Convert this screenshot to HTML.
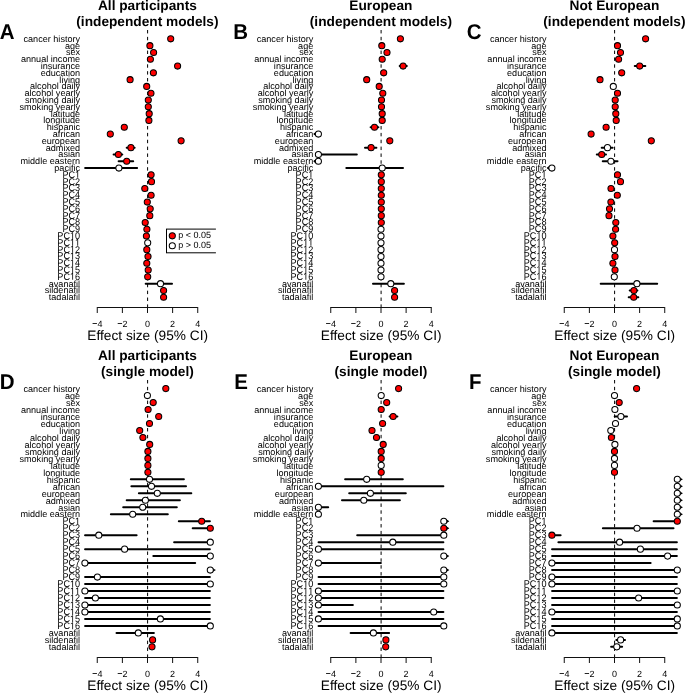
<!DOCTYPE html><html><head><meta charset="utf-8"><style>html,body{margin:0;padding:0;background:#fff;width:685px;height:693px;overflow:hidden}svg{display:block;will-change:transform}text{font-family:"Liberation Sans",sans-serif;fill:#000;text-rendering:geometricPrecision}.lb{font-size:9.1px;text-anchor:end}.tk{font-size:9px;text-anchor:middle}.ti{font-size:13.7px;font-weight:bold;text-anchor:middle}.xl{font-size:13.7px;text-anchor:middle}.le{font-size:20.5px;font-weight:bold;text-anchor:end}.lg{font-size:9px}.ci{stroke:#000;stroke-width:2;stroke-linecap:round;fill:none}.cc{stroke:#000;stroke-width:2;stroke-linecap:butt;fill:none}.pr{fill:#f00;stroke:#000;stroke-width:1.05}.pw{fill:#fff;stroke:#000;stroke-width:1.05}.ax{stroke:#111;stroke-width:1;fill:none}.zl{stroke:#000;stroke-width:1;stroke-dasharray:3.43 3.43;fill:none}</style></head><body>
<svg width="685" height="693" viewBox="0 0 685 693">
<g><clipPath id="cA"><rect x="80" y="25" width="135.9" height="282.5"/></clipPath><text class="le" transform="translate(14.6 38.8) scale(1 1.04)">A</text><text class="ti" x="147.4" y="9.6">All participants</text><text class="ti" x="147.4" y="25.8">(independent models)</text><text class="lb" x="80.1" y="41.7">cancer history</text><text class="lb" x="80.1" y="48.5">age</text><text class="lb" x="80.1" y="55.3">sex</text><text class="lb" x="80.1" y="62.1">annual income</text><text class="lb" x="80.1" y="68.9">insurance</text><text class="lb" x="80.1" y="75.7">education</text><text class="lb" x="80.1" y="82.5">living</text><text class="lb" x="80.1" y="89.3">alcohol daily</text><text class="lb" x="80.1" y="96.1">alcohol yearly</text><text class="lb" x="80.1" y="102.9">smoking daily</text><text class="lb" x="80.1" y="109.7">smoking yearly</text><text class="lb" x="80.1" y="116.5">latitude</text><text class="lb" x="80.1" y="123.3">longitude</text><text class="lb" x="80.1" y="130.1">hispanic</text><text class="lb" x="80.1" y="136.9">african</text><text class="lb" x="80.1" y="143.7">european</text><text class="lb" x="80.1" y="150.5">admixed</text><text class="lb" x="80.1" y="157.3">asian</text><text class="lb" x="80.1" y="164.1">middle eastern</text><text class="lb" x="80.1" y="170.9">pacific</text><g transform="translate(80.1 177.7) scale(1 1.07)"><text class="lb">PC </text><path d="M-2.77 0L-2.77 -5.5L-4.19 -4.49L-4.19 -5.24L-2.71 -6.26L-1.97 -6.26L-1.97 0z"/></g><g transform="translate(80.1 184.5) scale(1 1.07)"><text class="lb">PC2</text></g><g transform="translate(80.1 191.3) scale(1 1.07)"><text class="lb">PC3</text></g><g transform="translate(80.1 198.1) scale(1 1.07)"><text class="lb">PC4</text></g><g transform="translate(80.1 204.9) scale(1 1.07)"><text class="lb">PC5</text></g><g transform="translate(80.1 211.7) scale(1 1.07)"><text class="lb">PC6</text></g><g transform="translate(80.1 218.5) scale(1 1.07)"><text class="lb">PC7</text></g><g transform="translate(80.1 225.3) scale(1 1.07)"><text class="lb">PC8</text></g><g transform="translate(80.1 232.1) scale(1 1.07)"><text class="lb">PC9</text></g><g transform="translate(80.1 238.9) scale(1 1.07)"><text class="lb">PC 0</text><path d="M-7.83 0L-7.83 -5.5L-9.25 -4.49L-9.25 -5.24L-7.77 -6.26L-7.03 -6.26L-7.03 0z"/></g><g transform="translate(80.1 245.7) scale(1 1.07)"><text class="lb">PC  </text><path d="M-7.83 0L-7.83 -5.5L-9.25 -4.49L-9.25 -5.24L-7.77 -6.26L-7.03 -6.26L-7.03 0z"/><path d="M-2.77 0L-2.77 -5.5L-4.19 -4.49L-4.19 -5.24L-2.71 -6.26L-1.97 -6.26L-1.97 0z"/></g><g transform="translate(80.1 252.5) scale(1 1.07)"><text class="lb">PC 2</text><path d="M-7.83 0L-7.83 -5.5L-9.25 -4.49L-9.25 -5.24L-7.77 -6.26L-7.03 -6.26L-7.03 0z"/></g><g transform="translate(80.1 259.3) scale(1 1.07)"><text class="lb">PC 3</text><path d="M-7.83 0L-7.83 -5.5L-9.25 -4.49L-9.25 -5.24L-7.77 -6.26L-7.03 -6.26L-7.03 0z"/></g><g transform="translate(80.1 266.1) scale(1 1.07)"><text class="lb">PC 4</text><path d="M-7.83 0L-7.83 -5.5L-9.25 -4.49L-9.25 -5.24L-7.77 -6.26L-7.03 -6.26L-7.03 0z"/></g><g transform="translate(80.1 272.9) scale(1 1.07)"><text class="lb">PC 5</text><path d="M-7.83 0L-7.83 -5.5L-9.25 -4.49L-9.25 -5.24L-7.77 -6.26L-7.03 -6.26L-7.03 0z"/></g><g transform="translate(80.1 279.7) scale(1 1.07)"><text class="lb">PC 6</text><path d="M-7.83 0L-7.83 -5.5L-9.25 -4.49L-9.25 -5.24L-7.77 -6.26L-7.03 -6.26L-7.03 0z"/></g><text class="lb" x="80.1" y="286.5">avanafil</text><text class="lb" x="80.1" y="293.3">sildenafil</text><text class="lb" x="80.1" y="300.1">tadalafil</text><line class="zl" x1="147.6" y1="30" x2="147.6" y2="307.5"/><path class="ax" d="M97.26 307.5H197.74M97.26 307v6M122.38 307v6M147.5 307v6M172.62 307v6M197.74 307v6"/><rect x="92.57" y="323.15" width="4.38" height="0.85" fill="#000"/><text class="tk" style="text-anchor:start" x="97.39" y="326.5">4</text><rect x="117.69" y="323.15" width="4.38" height="0.85" fill="#000"/><text class="tk" style="text-anchor:start" x="122.51" y="326.5">2</text><text class="tk" x="147.5" y="326.5">0</text><text class="tk" x="172.62" y="326.5">2</text><text class="tk" x="197.74" y="326.5">4</text><text class="xl" x="147.7" y="339.7">Effect size (95% CI)</text><g clip-path="url(#cA)"><line class="ci" x1="126.7" y1="147.65" x2="134.6" y2="147.65"/><line class="ci" x1="113.6" y1="154.45" x2="122.3" y2="154.45"/><line class="ci" x1="118.6" y1="161.25" x2="133.2" y2="161.25"/><line class="ci" x1="85.1" y1="168.05" x2="137.1" y2="168.05"/><line class="ci" x1="145.7" y1="283.65" x2="172" y2="283.65"/><circle class="pr" cx="170.7" cy="38.85" r="3.05"/><circle class="pr" cx="149.9" cy="45.65" r="3.05"/><circle class="pr" cx="153.6" cy="52.45" r="3.05"/><circle class="pr" cx="150.4" cy="59.25" r="3.05"/><circle class="pr" cx="177.6" cy="66.05" r="3.05"/><circle class="pr" cx="153.4" cy="72.85" r="3.05"/><circle class="pr" cx="130.1" cy="79.65" r="3.05"/><circle class="pr" cx="146.7" cy="86.45" r="3.05"/><circle class="pr" cx="150.95" cy="93.25" r="3.05"/><circle class="pr" cx="148.3" cy="100.05" r="3.05"/><circle class="pr" cx="148.3" cy="106.85" r="3.05"/><circle class="pr" cx="149.2" cy="113.65" r="3.05"/><circle class="pr" cx="148.9" cy="120.45" r="3.05"/><circle class="pr" cx="124.3" cy="127.25" r="3.05"/><circle class="pr" cx="110.3" cy="134.05" r="3.05"/><circle class="pr" cx="181.1" cy="140.85" r="3.05"/><circle class="pr" cx="130.9" cy="147.65" r="3.05"/><circle class="pr" cx="118.4" cy="154.45" r="3.05"/><circle class="pr" cx="126.7" cy="161.25" r="3.05"/><circle class="pw" cx="118.9" cy="168.05" r="3.05"/><circle class="pr" cx="151.1" cy="174.85" r="3.05"/><circle class="pr" cx="151.5" cy="181.65" r="3.05"/><circle class="pr" cx="144.8" cy="188.45" r="3.05"/><circle class="pr" cx="151.1" cy="195.25" r="3.05"/><circle class="pr" cx="147.3" cy="202.05" r="3.05"/><circle class="pr" cx="150.2" cy="208.85" r="3.05"/><circle class="pr" cx="149.8" cy="215.65" r="3.05"/><circle class="pr" cx="145.2" cy="222.45" r="3.05"/><circle class="pr" cx="146.9" cy="229.25" r="3.05"/><circle class="pr" cx="146.4" cy="236.05" r="3.05"/><circle class="pw" cx="147.7" cy="242.85" r="3.05"/><circle class="pr" cx="146.8" cy="249.65" r="3.05"/><circle class="pr" cx="148" cy="256.45" r="3.05"/><circle class="pr" cx="146.8" cy="263.25" r="3.05"/><circle class="pr" cx="148.2" cy="270.05" r="3.05"/><circle class="pr" cx="147.7" cy="276.85" r="3.05"/><circle class="pw" cx="160.5" cy="283.65" r="3.05"/><circle class="pr" cx="163.6" cy="290.45" r="3.05"/><circle class="pr" cx="163.6" cy="297.25" r="3.05"/></g><g clip-path="url(#cA)"><rect x="166.5" y="229.1" width="60" height="23.7" fill="none" stroke="#000" stroke-width="1"/><circle class="pr" cx="172.3" cy="235.8" r="3.05"/><circle class="pw" cx="172.3" cy="245.7" r="3.05"/></g><text class="lg" x="178.3" y="238.35">p &lt; 0.05</text><text class="lg" x="178.3" y="248.25">p &gt; 0.05</text></g>
<g><clipPath id="cB"><rect x="313.5" y="25" width="135.9" height="282.5"/></clipPath><text class="le" transform="translate(248.05 38.8) scale(1 1.04)">B</text><text class="ti" x="380.9" y="9.6">European</text><text class="ti" x="380.9" y="25.8">(independent models)</text><text class="lb" x="313.3" y="41.7">cancer history</text><text class="lb" x="313.3" y="48.5">age</text><text class="lb" x="313.3" y="55.3">sex</text><text class="lb" x="313.3" y="62.1">annual income</text><text class="lb" x="313.3" y="68.9">insurance</text><text class="lb" x="313.3" y="75.7">education</text><text class="lb" x="313.3" y="82.5">living</text><text class="lb" x="313.3" y="89.3">alcohol daily</text><text class="lb" x="313.3" y="96.1">alcohol yearly</text><text class="lb" x="313.3" y="102.9">smoking daily</text><text class="lb" x="313.3" y="109.7">smoking yearly</text><text class="lb" x="313.3" y="116.5">latitude</text><text class="lb" x="313.3" y="123.3">longitude</text><text class="lb" x="313.3" y="130.1">hispanic</text><text class="lb" x="313.3" y="136.9">african</text><text class="lb" x="313.3" y="143.7">european</text><text class="lb" x="313.3" y="150.5">admixed</text><text class="lb" x="313.3" y="157.3">asian</text><text class="lb" x="313.3" y="164.1">middle eastern</text><text class="lb" x="313.3" y="170.9">pacific</text><g transform="translate(313.3 177.7) scale(1 1.07)"><text class="lb">PC </text><path d="M-2.77 0L-2.77 -5.5L-4.19 -4.49L-4.19 -5.24L-2.71 -6.26L-1.97 -6.26L-1.97 0z"/></g><g transform="translate(313.3 184.5) scale(1 1.07)"><text class="lb">PC2</text></g><g transform="translate(313.3 191.3) scale(1 1.07)"><text class="lb">PC3</text></g><g transform="translate(313.3 198.1) scale(1 1.07)"><text class="lb">PC4</text></g><g transform="translate(313.3 204.9) scale(1 1.07)"><text class="lb">PC5</text></g><g transform="translate(313.3 211.7) scale(1 1.07)"><text class="lb">PC6</text></g><g transform="translate(313.3 218.5) scale(1 1.07)"><text class="lb">PC7</text></g><g transform="translate(313.3 225.3) scale(1 1.07)"><text class="lb">PC8</text></g><g transform="translate(313.3 232.1) scale(1 1.07)"><text class="lb">PC9</text></g><g transform="translate(313.3 238.9) scale(1 1.07)"><text class="lb">PC 0</text><path d="M-7.83 0L-7.83 -5.5L-9.25 -4.49L-9.25 -5.24L-7.77 -6.26L-7.03 -6.26L-7.03 0z"/></g><g transform="translate(313.3 245.7) scale(1 1.07)"><text class="lb">PC  </text><path d="M-7.83 0L-7.83 -5.5L-9.25 -4.49L-9.25 -5.24L-7.77 -6.26L-7.03 -6.26L-7.03 0z"/><path d="M-2.77 0L-2.77 -5.5L-4.19 -4.49L-4.19 -5.24L-2.71 -6.26L-1.97 -6.26L-1.97 0z"/></g><g transform="translate(313.3 252.5) scale(1 1.07)"><text class="lb">PC 2</text><path d="M-7.83 0L-7.83 -5.5L-9.25 -4.49L-9.25 -5.24L-7.77 -6.26L-7.03 -6.26L-7.03 0z"/></g><g transform="translate(313.3 259.3) scale(1 1.07)"><text class="lb">PC 3</text><path d="M-7.83 0L-7.83 -5.5L-9.25 -4.49L-9.25 -5.24L-7.77 -6.26L-7.03 -6.26L-7.03 0z"/></g><g transform="translate(313.3 266.1) scale(1 1.07)"><text class="lb">PC 4</text><path d="M-7.83 0L-7.83 -5.5L-9.25 -4.49L-9.25 -5.24L-7.77 -6.26L-7.03 -6.26L-7.03 0z"/></g><g transform="translate(313.3 272.9) scale(1 1.07)"><text class="lb">PC 5</text><path d="M-7.83 0L-7.83 -5.5L-9.25 -4.49L-9.25 -5.24L-7.77 -6.26L-7.03 -6.26L-7.03 0z"/></g><g transform="translate(313.3 279.7) scale(1 1.07)"><text class="lb">PC 6</text><path d="M-7.83 0L-7.83 -5.5L-9.25 -4.49L-9.25 -5.24L-7.77 -6.26L-7.03 -6.26L-7.03 0z"/></g><text class="lb" x="313.3" y="286.5">avanafil</text><text class="lb" x="313.3" y="293.3">sildenafil</text><text class="lb" x="313.3" y="300.1">tadalafil</text><line class="zl" x1="381.1" y1="30" x2="381.1" y2="307.5"/><path class="ax" d="M330.76 307.5H431.24M330.76 307v6M355.88 307v6M381 307v6M406.12 307v6M431.24 307v6"/><rect x="326.07" y="323.15" width="4.38" height="0.85" fill="#000"/><text class="tk" style="text-anchor:start" x="330.89" y="326.5">4</text><rect x="351.19" y="323.15" width="4.38" height="0.85" fill="#000"/><text class="tk" style="text-anchor:start" x="356.01" y="326.5">2</text><text class="tk" x="381" y="326.5">0</text><text class="tk" x="406.12" y="326.5">2</text><text class="tk" x="431.24" y="326.5">4</text><text class="xl" x="381.2" y="339.7">Effect size (95% CI)</text><g clip-path="url(#cB)"><line class="ci" x1="399.7" y1="66.05" x2="406.8" y2="66.05"/><line class="ci" x1="370.6" y1="127.25" x2="378.4" y2="127.25"/><line class="cc" x1="314.5" y1="134.05" x2="318.4" y2="134.05"/><path d="M316.5 131.85L312.5 134.05L316.5 136.25z" fill="#000"/><line class="ci" x1="365" y1="147.65" x2="376.4" y2="147.65"/><line class="ci" x1="318.4" y1="154.45" x2="356.8" y2="154.45"/><line class="cc" x1="314.5" y1="161.25" x2="318.4" y2="161.25"/><path d="M316.5 159.05L312.5 161.25L316.5 163.45z" fill="#000"/><line class="ci" x1="346.3" y1="168.05" x2="403" y2="168.05"/><line class="ci" x1="373" y1="283.65" x2="403.9" y2="283.65"/><circle class="pr" cx="400.4" cy="38.85" r="3.05"/><circle class="pr" cx="381.8" cy="45.65" r="3.05"/><circle class="pr" cx="387" cy="52.45" r="3.05"/><circle class="pr" cx="382.2" cy="59.25" r="3.05"/><circle class="pr" cx="403.1" cy="66.05" r="3.05"/><circle class="pr" cx="383.7" cy="72.85" r="3.05"/><circle class="pr" cx="366.7" cy="79.65" r="3.05"/><circle class="pr" cx="379.2" cy="86.45" r="3.05"/><circle class="pr" cx="382.8" cy="93.25" r="3.05"/><circle class="pr" cx="381.5" cy="100.05" r="3.05"/><circle class="pr" cx="381.5" cy="106.85" r="3.05"/><circle class="pr" cx="382.2" cy="113.65" r="3.05"/><circle class="pr" cx="382.2" cy="120.45" r="3.05"/><circle class="pr" cx="374.5" cy="127.25" r="3.05"/><circle class="pw" cx="318.4" cy="134.05" r="3.05"/><circle class="pr" cx="389.8" cy="140.85" r="3.05"/><circle class="pr" cx="371.1" cy="147.65" r="3.05"/><circle class="pw" cx="318.4" cy="154.45" r="3.05"/><circle class="pw" cx="318.4" cy="161.25" r="3.05"/><circle class="pw" cx="382.2" cy="168.05" r="3.05"/><circle class="pr" cx="381.3" cy="174.85" r="3.05"/><circle class="pr" cx="381.3" cy="181.65" r="3.05"/><circle class="pr" cx="381.3" cy="188.45" r="3.05"/><circle class="pr" cx="381.3" cy="195.25" r="3.05"/><circle class="pr" cx="381.3" cy="202.05" r="3.05"/><circle class="pr" cx="381.3" cy="208.85" r="3.05"/><circle class="pr" cx="381.3" cy="215.65" r="3.05"/><circle class="pr" cx="381.3" cy="222.45" r="3.05"/><circle class="pw" cx="381" cy="229.25" r="3.05"/><circle class="pw" cx="381" cy="236.05" r="3.05"/><circle class="pw" cx="381" cy="242.85" r="3.05"/><circle class="pw" cx="381" cy="249.65" r="3.05"/><circle class="pw" cx="381" cy="256.45" r="3.05"/><circle class="pw" cx="381" cy="263.25" r="3.05"/><circle class="pw" cx="381" cy="270.05" r="3.05"/><circle class="pw" cx="381" cy="276.85" r="3.05"/><circle class="pw" cx="390.8" cy="283.65" r="3.05"/><circle class="pr" cx="394.6" cy="290.45" r="3.05"/><circle class="pr" cx="394.6" cy="297.25" r="3.05"/></g></g>
<g><clipPath id="cC"><rect x="547" y="25" width="135.9" height="282.5"/></clipPath><text class="le" transform="translate(481.5 38.8) scale(1 1.04)">C</text><text class="ti" x="614.4" y="9.6">Not European</text><text class="ti" x="614.4" y="25.8">(independent models)</text><text class="lb" x="546.5" y="41.7">cancer history</text><text class="lb" x="546.5" y="48.5">age</text><text class="lb" x="546.5" y="55.3">sex</text><text class="lb" x="546.5" y="62.1">annual income</text><text class="lb" x="546.5" y="68.9">insurance</text><text class="lb" x="546.5" y="75.7">education</text><text class="lb" x="546.5" y="82.5">living</text><text class="lb" x="546.5" y="89.3">alcohol daily</text><text class="lb" x="546.5" y="96.1">alcohol yearly</text><text class="lb" x="546.5" y="102.9">smoking daily</text><text class="lb" x="546.5" y="109.7">smoking yearly</text><text class="lb" x="546.5" y="116.5">latitude</text><text class="lb" x="546.5" y="123.3">longitude</text><text class="lb" x="546.5" y="130.1">hispanic</text><text class="lb" x="546.5" y="136.9">african</text><text class="lb" x="546.5" y="143.7">european</text><text class="lb" x="546.5" y="150.5">admixed</text><text class="lb" x="546.5" y="157.3">asian</text><text class="lb" x="546.5" y="164.1">middle eastern</text><text class="lb" x="546.5" y="170.9">pacific</text><g transform="translate(546.5 177.7) scale(1 1.07)"><text class="lb">PC </text><path d="M-2.77 0L-2.77 -5.5L-4.19 -4.49L-4.19 -5.24L-2.71 -6.26L-1.97 -6.26L-1.97 0z"/></g><g transform="translate(546.5 184.5) scale(1 1.07)"><text class="lb">PC2</text></g><g transform="translate(546.5 191.3) scale(1 1.07)"><text class="lb">PC3</text></g><g transform="translate(546.5 198.1) scale(1 1.07)"><text class="lb">PC4</text></g><g transform="translate(546.5 204.9) scale(1 1.07)"><text class="lb">PC5</text></g><g transform="translate(546.5 211.7) scale(1 1.07)"><text class="lb">PC6</text></g><g transform="translate(546.5 218.5) scale(1 1.07)"><text class="lb">PC7</text></g><g transform="translate(546.5 225.3) scale(1 1.07)"><text class="lb">PC8</text></g><g transform="translate(546.5 232.1) scale(1 1.07)"><text class="lb">PC9</text></g><g transform="translate(546.5 238.9) scale(1 1.07)"><text class="lb">PC 0</text><path d="M-7.83 0L-7.83 -5.5L-9.25 -4.49L-9.25 -5.24L-7.77 -6.26L-7.03 -6.26L-7.03 0z"/></g><g transform="translate(546.5 245.7) scale(1 1.07)"><text class="lb">PC  </text><path d="M-7.83 0L-7.83 -5.5L-9.25 -4.49L-9.25 -5.24L-7.77 -6.26L-7.03 -6.26L-7.03 0z"/><path d="M-2.77 0L-2.77 -5.5L-4.19 -4.49L-4.19 -5.24L-2.71 -6.26L-1.97 -6.26L-1.97 0z"/></g><g transform="translate(546.5 252.5) scale(1 1.07)"><text class="lb">PC 2</text><path d="M-7.83 0L-7.83 -5.5L-9.25 -4.49L-9.25 -5.24L-7.77 -6.26L-7.03 -6.26L-7.03 0z"/></g><g transform="translate(546.5 259.3) scale(1 1.07)"><text class="lb">PC 3</text><path d="M-7.83 0L-7.83 -5.5L-9.25 -4.49L-9.25 -5.24L-7.77 -6.26L-7.03 -6.26L-7.03 0z"/></g><g transform="translate(546.5 266.1) scale(1 1.07)"><text class="lb">PC 4</text><path d="M-7.83 0L-7.83 -5.5L-9.25 -4.49L-9.25 -5.24L-7.77 -6.26L-7.03 -6.26L-7.03 0z"/></g><g transform="translate(546.5 272.9) scale(1 1.07)"><text class="lb">PC 5</text><path d="M-7.83 0L-7.83 -5.5L-9.25 -4.49L-9.25 -5.24L-7.77 -6.26L-7.03 -6.26L-7.03 0z"/></g><g transform="translate(546.5 279.7) scale(1 1.07)"><text class="lb">PC 6</text><path d="M-7.83 0L-7.83 -5.5L-9.25 -4.49L-9.25 -5.24L-7.77 -6.26L-7.03 -6.26L-7.03 0z"/></g><text class="lb" x="546.5" y="286.5">avanafil</text><text class="lb" x="546.5" y="293.3">sildenafil</text><text class="lb" x="546.5" y="300.1">tadalafil</text><line class="zl" x1="614.6" y1="30" x2="614.6" y2="307.5"/><path class="ax" d="M564.26 307.5H664.74M564.26 307v6M589.38 307v6M614.5 307v6M639.62 307v6M664.74 307v6"/><rect x="559.57" y="323.15" width="4.38" height="0.85" fill="#000"/><text class="tk" style="text-anchor:start" x="564.39" y="326.5">4</text><rect x="584.69" y="323.15" width="4.38" height="0.85" fill="#000"/><text class="tk" style="text-anchor:start" x="589.51" y="326.5">2</text><text class="tk" x="614.5" y="326.5">0</text><text class="tk" x="639.62" y="326.5">2</text><text class="tk" x="664.74" y="326.5">4</text><text class="xl" x="614.7" y="339.7">Effect size (95% CI)</text><g clip-path="url(#cC)"><line class="ci" x1="634.75" y1="66.05" x2="645.3" y2="66.05"/><line class="ci" x1="601.7" y1="147.65" x2="612.6" y2="147.65"/><line class="ci" x1="596.8" y1="154.45" x2="606" y2="154.45"/><line class="ci" x1="602.75" y1="161.25" x2="617.5" y2="161.25"/><line class="cc" x1="548" y1="168.05" x2="551.9" y2="168.05"/><path d="M550 165.85L546 168.05L550 170.25z" fill="#000"/><line class="ci" x1="600.7" y1="283.65" x2="657.2" y2="283.65"/><line class="ci" x1="629.7" y1="290.45" x2="637.4" y2="290.45"/><line class="ci" x1="628.7" y1="297.25" x2="638.3" y2="297.25"/><circle class="pr" cx="645.6" cy="38.85" r="3.05"/><circle class="pr" cx="617.5" cy="45.65" r="3.05"/><circle class="pr" cx="620.5" cy="52.45" r="3.05"/><circle class="pr" cx="618.6" cy="59.25" r="3.05"/><circle class="pr" cx="639.7" cy="66.05" r="3.05"/><circle class="pr" cx="621.7" cy="72.85" r="3.05"/><circle class="pr" cx="600" cy="79.65" r="3.05"/><circle class="pw" cx="613.3" cy="86.45" r="3.05"/><circle class="pr" cx="617.5" cy="93.25" r="3.05"/><circle class="pr" cx="615.2" cy="100.05" r="3.05"/><circle class="pr" cx="615.2" cy="106.85" r="3.05"/><circle class="pr" cx="615.8" cy="113.65" r="3.05"/><circle class="pr" cx="616.2" cy="120.45" r="3.05"/><circle class="pr" cx="606.1" cy="127.25" r="3.05"/><circle class="pr" cx="591.1" cy="134.05" r="3.05"/><circle class="pr" cx="651.3" cy="140.85" r="3.05"/><circle class="pw" cx="607.5" cy="147.65" r="3.05"/><circle class="pr" cx="601.7" cy="154.45" r="3.05"/><circle class="pw" cx="610.9" cy="161.25" r="3.05"/><circle class="pw" cx="551.9" cy="168.05" r="3.05"/><circle class="pr" cx="617.5" cy="174.85" r="3.05"/><circle class="pr" cx="620.5" cy="181.65" r="3.05"/><circle class="pr" cx="611" cy="188.45" r="3.05"/><circle class="pr" cx="617.3" cy="195.25" r="3.05"/><circle class="pr" cx="610.9" cy="202.05" r="3.05"/><circle class="pr" cx="609.5" cy="208.85" r="3.05"/><circle class="pr" cx="609" cy="215.65" r="3.05"/><circle class="pr" cx="615.8" cy="222.45" r="3.05"/><circle class="pr" cx="615.6" cy="229.25" r="3.05"/><circle class="pr" cx="612.9" cy="236.05" r="3.05"/><circle class="pr" cx="614.7" cy="242.85" r="3.05"/><circle class="pw" cx="614.5" cy="249.65" r="3.05"/><circle class="pr" cx="615" cy="256.45" r="3.05"/><circle class="pr" cx="612.9" cy="263.25" r="3.05"/><circle class="pr" cx="615" cy="270.05" r="3.05"/><circle class="pw" cx="614.3" cy="276.85" r="3.05"/><circle class="pw" cx="636.9" cy="283.65" r="3.05"/><circle class="pr" cx="633.9" cy="290.45" r="3.05"/><circle class="pr" cx="633.7" cy="297.25" r="3.05"/></g></g>
<g><clipPath id="cD"><rect x="80" y="375" width="135.9" height="282.5"/></clipPath><text class="le" transform="translate(14.6 388.8) scale(1 1.04)">D</text><text class="ti" x="147.4" y="359.6">All participants</text><text class="ti" x="147.4" y="375.8">(single model)</text><text class="lb" x="80.1" y="391.85">cancer history</text><text class="lb" x="80.1" y="398.83">age</text><text class="lb" x="80.1" y="405.81">sex</text><text class="lb" x="80.1" y="412.79">annual income</text><text class="lb" x="80.1" y="419.77">insurance</text><text class="lb" x="80.1" y="426.75">education</text><text class="lb" x="80.1" y="433.73">living</text><text class="lb" x="80.1" y="440.71">alcohol daily</text><text class="lb" x="80.1" y="447.69">alcohol yearly</text><text class="lb" x="80.1" y="454.67">smoking daily</text><text class="lb" x="80.1" y="461.65">smoking yearly</text><text class="lb" x="80.1" y="468.63">latitude</text><text class="lb" x="80.1" y="475.61">longitude</text><text class="lb" x="80.1" y="482.59">hispanic</text><text class="lb" x="80.1" y="489.57">african</text><text class="lb" x="80.1" y="496.55">european</text><text class="lb" x="80.1" y="503.53">admixed</text><text class="lb" x="80.1" y="510.51">asian</text><text class="lb" x="80.1" y="517.49">middle eastern</text><g transform="translate(80.1 524.47) scale(1 1.07)"><text class="lb">PC </text><path d="M-2.77 0L-2.77 -5.5L-4.19 -4.49L-4.19 -5.24L-2.71 -6.26L-1.97 -6.26L-1.97 0z"/></g><g transform="translate(80.1 531.45) scale(1 1.07)"><text class="lb">PC2</text></g><g transform="translate(80.1 538.43) scale(1 1.07)"><text class="lb">PC3</text></g><g transform="translate(80.1 545.41) scale(1 1.07)"><text class="lb">PC4</text></g><g transform="translate(80.1 552.39) scale(1 1.07)"><text class="lb">PC5</text></g><g transform="translate(80.1 559.37) scale(1 1.07)"><text class="lb">PC6</text></g><g transform="translate(80.1 566.35) scale(1 1.07)"><text class="lb">PC7</text></g><g transform="translate(80.1 573.33) scale(1 1.07)"><text class="lb">PC8</text></g><g transform="translate(80.1 580.31) scale(1 1.07)"><text class="lb">PC9</text></g><g transform="translate(80.1 587.29) scale(1 1.07)"><text class="lb">PC 0</text><path d="M-7.83 0L-7.83 -5.5L-9.25 -4.49L-9.25 -5.24L-7.77 -6.26L-7.03 -6.26L-7.03 0z"/></g><g transform="translate(80.1 594.27) scale(1 1.07)"><text class="lb">PC  </text><path d="M-7.83 0L-7.83 -5.5L-9.25 -4.49L-9.25 -5.24L-7.77 -6.26L-7.03 -6.26L-7.03 0z"/><path d="M-2.77 0L-2.77 -5.5L-4.19 -4.49L-4.19 -5.24L-2.71 -6.26L-1.97 -6.26L-1.97 0z"/></g><g transform="translate(80.1 601.25) scale(1 1.07)"><text class="lb">PC 2</text><path d="M-7.83 0L-7.83 -5.5L-9.25 -4.49L-9.25 -5.24L-7.77 -6.26L-7.03 -6.26L-7.03 0z"/></g><g transform="translate(80.1 608.23) scale(1 1.07)"><text class="lb">PC 3</text><path d="M-7.83 0L-7.83 -5.5L-9.25 -4.49L-9.25 -5.24L-7.77 -6.26L-7.03 -6.26L-7.03 0z"/></g><g transform="translate(80.1 615.21) scale(1 1.07)"><text class="lb">PC 4</text><path d="M-7.83 0L-7.83 -5.5L-9.25 -4.49L-9.25 -5.24L-7.77 -6.26L-7.03 -6.26L-7.03 0z"/></g><g transform="translate(80.1 622.19) scale(1 1.07)"><text class="lb">PC 5</text><path d="M-7.83 0L-7.83 -5.5L-9.25 -4.49L-9.25 -5.24L-7.77 -6.26L-7.03 -6.26L-7.03 0z"/></g><g transform="translate(80.1 629.17) scale(1 1.07)"><text class="lb">PC 6</text><path d="M-7.83 0L-7.83 -5.5L-9.25 -4.49L-9.25 -5.24L-7.77 -6.26L-7.03 -6.26L-7.03 0z"/></g><text class="lb" x="80.1" y="636.15">avanafil</text><text class="lb" x="80.1" y="643.13">sildenafil</text><text class="lb" x="80.1" y="650.11">tadalafil</text><line class="zl" x1="147.6" y1="380" x2="147.6" y2="657.5"/><path class="ax" d="M97.26 657.5H197.74M97.26 657v6M122.38 657v6M147.5 657v6M172.62 657v6M197.74 657v6"/><rect x="92.57" y="673.15" width="4.38" height="0.85" fill="#000"/><text class="tk" style="text-anchor:start" x="97.39" y="676.5">4</text><rect x="117.69" y="673.15" width="4.38" height="0.85" fill="#000"/><text class="tk" style="text-anchor:start" x="122.51" y="676.5">2</text><text class="tk" x="147.5" y="676.5">0</text><text class="tk" x="172.62" y="676.5">2</text><text class="tk" x="197.74" y="676.5">4</text><text class="xl" x="147.7" y="689.7">Effect size (95% CI)</text><g clip-path="url(#cD)"><line class="ci" x1="130.8" y1="479.34" x2="183.9" y2="479.34"/><line class="ci" x1="131.4" y1="486.32" x2="186" y2="486.32"/><line class="ci" x1="138.9" y1="493.3" x2="191.3" y2="493.3"/><line class="ci" x1="126.7" y1="500.28" x2="179.9" y2="500.28"/><line class="ci" x1="123.2" y1="507.26" x2="176.8" y2="507.26"/><line class="ci" x1="110.9" y1="514.24" x2="167.8" y2="514.24"/><line class="ci" x1="178.8" y1="521.22" x2="209.85" y2="521.22"/><line class="ci" x1="192.7" y1="528.2" x2="209.85" y2="528.2"/><line class="ci" x1="85.05" y1="535.18" x2="136.6" y2="535.18"/><line class="ci" x1="174.1" y1="542.16" x2="209.85" y2="542.16"/><line class="ci" x1="85.05" y1="549.14" x2="209.85" y2="549.14"/><line class="ci" x1="153.3" y1="556.12" x2="209.85" y2="556.12"/><line class="ci" x1="85.05" y1="563.1" x2="195.2" y2="563.1"/><line class="cc" x1="210.3" y1="570.08" x2="214" y2="570.08"/><path d="M212 567.88L216 570.08L212 572.28z" fill="#000"/><line class="ci" x1="85.05" y1="577.06" x2="209.85" y2="577.06"/><line class="ci" x1="85.05" y1="584.04" x2="209.85" y2="584.04"/><line class="ci" x1="85.05" y1="591.02" x2="209.85" y2="591.02"/><line class="ci" x1="85.05" y1="598" x2="209.85" y2="598"/><line class="ci" x1="85.05" y1="604.98" x2="209.85" y2="604.98"/><line class="ci" x1="85.05" y1="611.96" x2="209.85" y2="611.96"/><line class="ci" x1="85.05" y1="618.94" x2="209.85" y2="618.94"/><line class="ci" x1="85.05" y1="625.92" x2="209.85" y2="625.92"/><line class="ci" x1="116.5" y1="632.9" x2="153.9" y2="632.9"/><circle class="pr" cx="165.8" cy="388.6" r="3.05"/><circle class="pw" cx="147.4" cy="395.58" r="3.05"/><circle class="pr" cx="153.2" cy="402.56" r="3.05"/><circle class="pr" cx="148.1" cy="409.54" r="3.05"/><circle class="pr" cx="158.7" cy="416.52" r="3.05"/><circle class="pr" cx="149.5" cy="423.5" r="3.05"/><circle class="pr" cx="139.7" cy="430.48" r="3.05"/><circle class="pr" cx="142.9" cy="437.46" r="3.05"/><circle class="pr" cx="149.7" cy="444.44" r="3.05"/><circle class="pr" cx="147.9" cy="451.42" r="3.05"/><circle class="pr" cx="147.9" cy="458.4" r="3.05"/><circle class="pr" cx="147.9" cy="465.38" r="3.05"/><circle class="pr" cx="147.9" cy="472.36" r="3.05"/><circle class="pw" cx="149.5" cy="479.34" r="3.05"/><circle class="pw" cx="151.5" cy="486.32" r="3.05"/><circle class="pw" cx="157.3" cy="493.3" r="3.05"/><circle class="pw" cx="145.4" cy="500.28" r="3.05"/><circle class="pw" cx="142.7" cy="507.26" r="3.05"/><circle class="pw" cx="132.7" cy="514.24" r="3.05"/><circle class="pr" cx="201.7" cy="521.22" r="3.05"/><circle class="pr" cx="210.3" cy="528.2" r="3.05"/><circle class="pw" cx="98.8" cy="535.18" r="3.05"/><circle class="pw" cx="210.3" cy="542.16" r="3.05"/><circle class="pw" cx="124.6" cy="549.14" r="3.05"/><circle class="pw" cx="210.3" cy="556.12" r="3.05"/><circle class="pw" cx="84.9" cy="563.1" r="3.05"/><circle class="pw" cx="210.3" cy="570.08" r="3.05"/><circle class="pw" cx="97.4" cy="577.06" r="3.05"/><circle class="pw" cx="210.3" cy="584.04" r="3.05"/><circle class="pw" cx="84.9" cy="591.02" r="3.05"/><circle class="pw" cx="95.4" cy="598" r="3.05"/><circle class="pw" cx="84.9" cy="604.98" r="3.05"/><circle class="pw" cx="84.9" cy="611.96" r="3.05"/><circle class="pw" cx="160.4" cy="618.94" r="3.05"/><circle class="pw" cx="210.3" cy="625.92" r="3.05"/><circle class="pw" cx="138.3" cy="632.9" r="3.05"/><circle class="pr" cx="152.6" cy="639.88" r="3.05"/><circle class="pr" cx="152" cy="646.86" r="3.05"/></g></g>
<g><clipPath id="cE"><rect x="313.5" y="375" width="135.9" height="282.5"/></clipPath><text class="le" transform="translate(248.05 388.8) scale(1 1.04)">E</text><text class="ti" x="380.9" y="359.6">European</text><text class="ti" x="380.9" y="375.8">(single model)</text><text class="lb" x="313.3" y="391.85">cancer history</text><text class="lb" x="313.3" y="398.83">age</text><text class="lb" x="313.3" y="405.81">sex</text><text class="lb" x="313.3" y="412.79">annual income</text><text class="lb" x="313.3" y="419.77">insurance</text><text class="lb" x="313.3" y="426.75">education</text><text class="lb" x="313.3" y="433.73">living</text><text class="lb" x="313.3" y="440.71">alcohol daily</text><text class="lb" x="313.3" y="447.69">alcohol yearly</text><text class="lb" x="313.3" y="454.67">smoking daily</text><text class="lb" x="313.3" y="461.65">smoking yearly</text><text class="lb" x="313.3" y="468.63">latitude</text><text class="lb" x="313.3" y="475.61">longitude</text><text class="lb" x="313.3" y="482.59">hispanic</text><text class="lb" x="313.3" y="489.57">african</text><text class="lb" x="313.3" y="496.55">european</text><text class="lb" x="313.3" y="503.53">admixed</text><text class="lb" x="313.3" y="510.51">asian</text><text class="lb" x="313.3" y="517.49">middle eastern</text><g transform="translate(313.3 524.47) scale(1 1.07)"><text class="lb">PC </text><path d="M-2.77 0L-2.77 -5.5L-4.19 -4.49L-4.19 -5.24L-2.71 -6.26L-1.97 -6.26L-1.97 0z"/></g><g transform="translate(313.3 531.45) scale(1 1.07)"><text class="lb">PC2</text></g><g transform="translate(313.3 538.43) scale(1 1.07)"><text class="lb">PC3</text></g><g transform="translate(313.3 545.41) scale(1 1.07)"><text class="lb">PC4</text></g><g transform="translate(313.3 552.39) scale(1 1.07)"><text class="lb">PC5</text></g><g transform="translate(313.3 559.37) scale(1 1.07)"><text class="lb">PC6</text></g><g transform="translate(313.3 566.35) scale(1 1.07)"><text class="lb">PC7</text></g><g transform="translate(313.3 573.33) scale(1 1.07)"><text class="lb">PC8</text></g><g transform="translate(313.3 580.31) scale(1 1.07)"><text class="lb">PC9</text></g><g transform="translate(313.3 587.29) scale(1 1.07)"><text class="lb">PC 0</text><path d="M-7.83 0L-7.83 -5.5L-9.25 -4.49L-9.25 -5.24L-7.77 -6.26L-7.03 -6.26L-7.03 0z"/></g><g transform="translate(313.3 594.27) scale(1 1.07)"><text class="lb">PC  </text><path d="M-7.83 0L-7.83 -5.5L-9.25 -4.49L-9.25 -5.24L-7.77 -6.26L-7.03 -6.26L-7.03 0z"/><path d="M-2.77 0L-2.77 -5.5L-4.19 -4.49L-4.19 -5.24L-2.71 -6.26L-1.97 -6.26L-1.97 0z"/></g><g transform="translate(313.3 601.25) scale(1 1.07)"><text class="lb">PC 2</text><path d="M-7.83 0L-7.83 -5.5L-9.25 -4.49L-9.25 -5.24L-7.77 -6.26L-7.03 -6.26L-7.03 0z"/></g><g transform="translate(313.3 608.23) scale(1 1.07)"><text class="lb">PC 3</text><path d="M-7.83 0L-7.83 -5.5L-9.25 -4.49L-9.25 -5.24L-7.77 -6.26L-7.03 -6.26L-7.03 0z"/></g><g transform="translate(313.3 615.21) scale(1 1.07)"><text class="lb">PC 4</text><path d="M-7.83 0L-7.83 -5.5L-9.25 -4.49L-9.25 -5.24L-7.77 -6.26L-7.03 -6.26L-7.03 0z"/></g><g transform="translate(313.3 622.19) scale(1 1.07)"><text class="lb">PC 5</text><path d="M-7.83 0L-7.83 -5.5L-9.25 -4.49L-9.25 -5.24L-7.77 -6.26L-7.03 -6.26L-7.03 0z"/></g><g transform="translate(313.3 629.17) scale(1 1.07)"><text class="lb">PC 6</text><path d="M-7.83 0L-7.83 -5.5L-9.25 -4.49L-9.25 -5.24L-7.77 -6.26L-7.03 -6.26L-7.03 0z"/></g><text class="lb" x="313.3" y="636.15">avanafil</text><text class="lb" x="313.3" y="643.13">sildenafil</text><text class="lb" x="313.3" y="650.11">tadalafil</text><line class="zl" x1="381.1" y1="380" x2="381.1" y2="657.5"/><path class="ax" d="M330.76 657.5H431.24M330.76 657v6M355.88 657v6M381 657v6M406.12 657v6M431.24 657v6"/><rect x="326.07" y="673.15" width="4.38" height="0.85" fill="#000"/><text class="tk" style="text-anchor:start" x="330.89" y="676.5">4</text><rect x="351.19" y="673.15" width="4.38" height="0.85" fill="#000"/><text class="tk" style="text-anchor:start" x="356.01" y="676.5">2</text><text class="tk" x="381" y="676.5">0</text><text class="tk" x="406.12" y="676.5">2</text><text class="tk" x="431.24" y="676.5">4</text><text class="xl" x="381.2" y="689.7">Effect size (95% CI)</text><g clip-path="url(#cE)"><line class="ci" x1="389.6" y1="416.52" x2="397.4" y2="416.52"/><line class="ci" x1="345.1" y1="479.34" x2="402.8" y2="479.34"/><line class="ci" x1="318.4" y1="486.32" x2="443.35" y2="486.32"/><line class="ci" x1="349.2" y1="493.3" x2="405.8" y2="493.3"/><line class="ci" x1="342" y1="500.28" x2="399.9" y2="500.28"/><line class="ci" x1="318.4" y1="507.26" x2="328.2" y2="507.26"/><line class="cc" x1="443.8" y1="521.22" x2="447.5" y2="521.22"/><path d="M445.5 519.02L449.5 521.22L445.5 523.42z" fill="#000"/><line class="cc" x1="443.8" y1="528.2" x2="447.5" y2="528.2"/><path d="M445.5 526L449.5 528.2L445.5 530.4z" fill="#000"/><line class="ci" x1="357.2" y1="535.18" x2="443.8" y2="535.18"/><line class="ci" x1="318.55" y1="542.16" x2="443.35" y2="542.16"/><line class="ci" x1="318.55" y1="549.14" x2="443.35" y2="549.14"/><line class="cc" x1="443.8" y1="556.12" x2="447.5" y2="556.12"/><path d="M445.5 553.92L449.5 556.12L445.5 558.32z" fill="#000"/><line class="ci" x1="318.4" y1="563.1" x2="380.9" y2="563.1"/><line class="cc" x1="443.8" y1="570.08" x2="447.5" y2="570.08"/><path d="M445.5 567.88L449.5 570.08L445.5 572.28z" fill="#000"/><line class="ci" x1="318.55" y1="577.06" x2="443.8" y2="577.06"/><line class="ci" x1="318.55" y1="584.04" x2="443.35" y2="584.04"/><line class="ci" x1="318.55" y1="591.02" x2="443.35" y2="591.02"/><line class="ci" x1="318.55" y1="598" x2="443.35" y2="598"/><line class="ci" x1="318.4" y1="604.98" x2="352.9" y2="604.98"/><line class="ci" x1="318.55" y1="611.96" x2="443.35" y2="611.96"/><line class="ci" x1="318.55" y1="618.94" x2="443.35" y2="618.94"/><line class="ci" x1="318.55" y1="625.92" x2="443.35" y2="625.92"/><line class="ci" x1="350.6" y1="632.9" x2="389.1" y2="632.9"/><circle class="pr" cx="398.6" cy="388.6" r="3.05"/><circle class="pw" cx="381.2" cy="395.58" r="3.05"/><circle class="pr" cx="386.7" cy="402.56" r="3.05"/><circle class="pr" cx="381.2" cy="409.54" r="3.05"/><circle class="pr" cx="393.15" cy="416.52" r="3.05"/><circle class="pr" cx="382.6" cy="423.5" r="3.05"/><circle class="pr" cx="372" cy="430.48" r="3.05"/><circle class="pr" cx="376.5" cy="437.46" r="3.05"/><circle class="pr" cx="383.2" cy="444.44" r="3.05"/><circle class="pr" cx="381.2" cy="451.42" r="3.05"/><circle class="pr" cx="381.2" cy="458.4" r="3.05"/><circle class="pw" cx="381.2" cy="465.38" r="3.05"/><circle class="pr" cx="381.2" cy="472.36" r="3.05"/><circle class="pw" cx="366.7" cy="479.34" r="3.05"/><circle class="pw" cx="318.4" cy="486.32" r="3.05"/><circle class="pw" cx="370.4" cy="493.3" r="3.05"/><circle class="pw" cx="363.8" cy="500.28" r="3.05"/><circle class="pw" cx="318.4" cy="507.26" r="3.05"/><circle class="pw" cx="318.4" cy="514.24" r="3.05"/><circle class="pw" cx="443.8" cy="521.22" r="3.05"/><circle class="pr" cx="443.8" cy="528.2" r="3.05"/><circle class="pw" cx="443.8" cy="535.18" r="3.05"/><circle class="pw" cx="392.8" cy="542.16" r="3.05"/><circle class="pw" cx="318.4" cy="549.14" r="3.05"/><circle class="pw" cx="443.8" cy="556.12" r="3.05"/><circle class="pw" cx="318.4" cy="563.1" r="3.05"/><circle class="pw" cx="443.8" cy="570.08" r="3.05"/><circle class="pw" cx="443.8" cy="577.06" r="3.05"/><circle class="pw" cx="443.8" cy="584.04" r="3.05"/><circle class="pw" cx="318.4" cy="591.02" r="3.05"/><circle class="pw" cx="318.4" cy="598" r="3.05"/><circle class="pw" cx="318.4" cy="604.98" r="3.05"/><circle class="pw" cx="433.7" cy="611.96" r="3.05"/><circle class="pw" cx="318.4" cy="618.94" r="3.05"/><circle class="pw" cx="443.8" cy="625.92" r="3.05"/><circle class="pw" cx="373.4" cy="632.9" r="3.05"/><circle class="pr" cx="385.9" cy="639.88" r="3.05"/><circle class="pr" cx="385.7" cy="646.86" r="3.05"/></g></g>
<g><clipPath id="cF"><rect x="547" y="375" width="135.9" height="282.5"/></clipPath><text class="le" transform="translate(481.5 388.8) scale(1 1.04)">F</text><text class="ti" x="614.4" y="359.6">Not European</text><text class="ti" x="614.4" y="375.8">(single model)</text><text class="lb" x="546.5" y="391.85">cancer history</text><text class="lb" x="546.5" y="398.83">age</text><text class="lb" x="546.5" y="405.81">sex</text><text class="lb" x="546.5" y="412.79">annual income</text><text class="lb" x="546.5" y="419.77">insurance</text><text class="lb" x="546.5" y="426.75">education</text><text class="lb" x="546.5" y="433.73">living</text><text class="lb" x="546.5" y="440.71">alcohol daily</text><text class="lb" x="546.5" y="447.69">alcohol yearly</text><text class="lb" x="546.5" y="454.67">smoking daily</text><text class="lb" x="546.5" y="461.65">smoking yearly</text><text class="lb" x="546.5" y="468.63">latitude</text><text class="lb" x="546.5" y="475.61">longitude</text><text class="lb" x="546.5" y="482.59">hispanic</text><text class="lb" x="546.5" y="489.57">african</text><text class="lb" x="546.5" y="496.55">european</text><text class="lb" x="546.5" y="503.53">admixed</text><text class="lb" x="546.5" y="510.51">asian</text><text class="lb" x="546.5" y="517.49">middle eastern</text><g transform="translate(546.5 524.47) scale(1 1.07)"><text class="lb">PC </text><path d="M-2.77 0L-2.77 -5.5L-4.19 -4.49L-4.19 -5.24L-2.71 -6.26L-1.97 -6.26L-1.97 0z"/></g><g transform="translate(546.5 531.45) scale(1 1.07)"><text class="lb">PC2</text></g><g transform="translate(546.5 538.43) scale(1 1.07)"><text class="lb">PC3</text></g><g transform="translate(546.5 545.41) scale(1 1.07)"><text class="lb">PC4</text></g><g transform="translate(546.5 552.39) scale(1 1.07)"><text class="lb">PC5</text></g><g transform="translate(546.5 559.37) scale(1 1.07)"><text class="lb">PC6</text></g><g transform="translate(546.5 566.35) scale(1 1.07)"><text class="lb">PC7</text></g><g transform="translate(546.5 573.33) scale(1 1.07)"><text class="lb">PC8</text></g><g transform="translate(546.5 580.31) scale(1 1.07)"><text class="lb">PC9</text></g><g transform="translate(546.5 587.29) scale(1 1.07)"><text class="lb">PC 0</text><path d="M-7.83 0L-7.83 -5.5L-9.25 -4.49L-9.25 -5.24L-7.77 -6.26L-7.03 -6.26L-7.03 0z"/></g><g transform="translate(546.5 594.27) scale(1 1.07)"><text class="lb">PC  </text><path d="M-7.83 0L-7.83 -5.5L-9.25 -4.49L-9.25 -5.24L-7.77 -6.26L-7.03 -6.26L-7.03 0z"/><path d="M-2.77 0L-2.77 -5.5L-4.19 -4.49L-4.19 -5.24L-2.71 -6.26L-1.97 -6.26L-1.97 0z"/></g><g transform="translate(546.5 601.25) scale(1 1.07)"><text class="lb">PC 2</text><path d="M-7.83 0L-7.83 -5.5L-9.25 -4.49L-9.25 -5.24L-7.77 -6.26L-7.03 -6.26L-7.03 0z"/></g><g transform="translate(546.5 608.23) scale(1 1.07)"><text class="lb">PC 3</text><path d="M-7.83 0L-7.83 -5.5L-9.25 -4.49L-9.25 -5.24L-7.77 -6.26L-7.03 -6.26L-7.03 0z"/></g><g transform="translate(546.5 615.21) scale(1 1.07)"><text class="lb">PC 4</text><path d="M-7.83 0L-7.83 -5.5L-9.25 -4.49L-9.25 -5.24L-7.77 -6.26L-7.03 -6.26L-7.03 0z"/></g><g transform="translate(546.5 622.19) scale(1 1.07)"><text class="lb">PC 5</text><path d="M-7.83 0L-7.83 -5.5L-9.25 -4.49L-9.25 -5.24L-7.77 -6.26L-7.03 -6.26L-7.03 0z"/></g><g transform="translate(546.5 629.17) scale(1 1.07)"><text class="lb">PC 6</text><path d="M-7.83 0L-7.83 -5.5L-9.25 -4.49L-9.25 -5.24L-7.77 -6.26L-7.03 -6.26L-7.03 0z"/></g><text class="lb" x="546.5" y="636.15">avanafil</text><text class="lb" x="546.5" y="643.13">sildenafil</text><text class="lb" x="546.5" y="650.11">tadalafil</text><line class="zl" x1="614.6" y1="380" x2="614.6" y2="657.5"/><path class="ax" d="M564.26 657.5H664.74M564.26 657v6M589.38 657v6M614.5 657v6M639.62 657v6M664.74 657v6"/><rect x="559.57" y="673.15" width="4.38" height="0.85" fill="#000"/><text class="tk" style="text-anchor:start" x="564.39" y="676.5">4</text><rect x="584.69" y="673.15" width="4.38" height="0.85" fill="#000"/><text class="tk" style="text-anchor:start" x="589.51" y="676.5">2</text><text class="tk" x="614.5" y="676.5">0</text><text class="tk" x="639.62" y="676.5">2</text><text class="tk" x="664.74" y="676.5">4</text><text class="xl" x="614.7" y="689.7">Effect size (95% CI)</text><g clip-path="url(#cF)"><line class="ci" x1="614.7" y1="416.52" x2="627" y2="416.52"/><line class="cc" x1="677.3" y1="479.34" x2="681" y2="479.34"/><path d="M679 477.14L683 479.34L679 481.54z" fill="#000"/><line class="cc" x1="677.3" y1="486.32" x2="681" y2="486.32"/><path d="M679 484.12L683 486.32L679 488.52z" fill="#000"/><line class="cc" x1="677.3" y1="493.3" x2="681" y2="493.3"/><path d="M679 491.1L683 493.3L679 495.5z" fill="#000"/><line class="cc" x1="677.3" y1="500.28" x2="681" y2="500.28"/><path d="M679 498.08L683 500.28L679 502.48z" fill="#000"/><line class="cc" x1="677.3" y1="507.26" x2="681" y2="507.26"/><path d="M679 505.06L683 507.26L679 509.46z" fill="#000"/><line class="cc" x1="677.3" y1="514.24" x2="681" y2="514.24"/><path d="M679 512.04L683 514.24L679 516.44z" fill="#000"/><line class="ci" x1="653.6" y1="521.22" x2="677.3" y2="521.22"/><line class="ci" x1="602.9" y1="528.2" x2="673.5" y2="528.2"/><line class="ci" x1="551.9" y1="535.18" x2="560.6" y2="535.18"/><line class="ci" x1="558.4" y1="542.16" x2="676.85" y2="542.16"/><line class="ci" x1="552.05" y1="549.14" x2="676.85" y2="549.14"/><line class="ci" x1="552.05" y1="556.12" x2="676.85" y2="556.12"/><line class="ci" x1="551.9" y1="563.1" x2="650.6" y2="563.1"/><line class="ci" x1="552.05" y1="570.08" x2="676.85" y2="570.08"/><line class="ci" x1="552.05" y1="577.06" x2="676.85" y2="577.06"/><line class="ci" x1="552.05" y1="584.04" x2="676.85" y2="584.04"/><line class="ci" x1="552.05" y1="591.02" x2="676.85" y2="591.02"/><line class="ci" x1="552.05" y1="598" x2="676.85" y2="598"/><line class="ci" x1="552.05" y1="604.98" x2="676.85" y2="604.98"/><line class="ci" x1="552.05" y1="611.96" x2="676.85" y2="611.96"/><line class="ci" x1="552.05" y1="618.94" x2="676.85" y2="618.94"/><line class="ci" x1="552.05" y1="625.92" x2="676.85" y2="625.92"/><line class="ci" x1="552.05" y1="632.9" x2="676.85" y2="632.9"/><line class="ci" x1="616.3" y1="639.88" x2="625" y2="639.88"/><line class="ci" x1="611.1" y1="646.86" x2="622.1" y2="646.86"/><circle class="pr" cx="636.6" cy="388.6" r="3.05"/><circle class="pw" cx="614.5" cy="395.58" r="3.05"/><circle class="pr" cx="619.2" cy="402.56" r="3.05"/><circle class="pw" cx="614.9" cy="409.54" r="3.05"/><circle class="pw" cx="620.9" cy="416.52" r="3.05"/><circle class="pw" cx="615.5" cy="423.5" r="3.05"/><circle class="pw" cx="610.8" cy="430.48" r="3.05"/><circle class="pr" cx="611.4" cy="437.46" r="3.05"/><circle class="pw" cx="614.9" cy="444.44" r="3.05"/><circle class="pr" cx="614.5" cy="451.42" r="3.05"/><circle class="pw" cx="614.5" cy="458.4" r="3.05"/><circle class="pw" cx="614.5" cy="465.38" r="3.05"/><circle class="pr" cx="614.5" cy="472.36" r="3.05"/><circle class="pw" cx="677.3" cy="479.34" r="3.05"/><circle class="pw" cx="677.3" cy="486.32" r="3.05"/><circle class="pw" cx="677.3" cy="493.3" r="3.05"/><circle class="pw" cx="677.3" cy="500.28" r="3.05"/><circle class="pw" cx="677.3" cy="507.26" r="3.05"/><circle class="pw" cx="677.3" cy="514.24" r="3.05"/><circle class="pr" cx="677.3" cy="521.22" r="3.05"/><circle class="pw" cx="637" cy="528.2" r="3.05"/><circle class="pr" cx="551.9" cy="535.18" r="3.05"/><circle class="pw" cx="619.6" cy="542.16" r="3.05"/><circle class="pw" cx="640.4" cy="549.14" r="3.05"/><circle class="pw" cx="667.6" cy="556.12" r="3.05"/><circle class="pw" cx="551.9" cy="563.1" r="3.05"/><circle class="pw" cx="677.3" cy="570.08" r="3.05"/><circle class="pw" cx="551.9" cy="577.06" r="3.05"/><circle class="pw" cx="551.9" cy="584.04" r="3.05"/><circle class="pw" cx="677.3" cy="591.02" r="3.05"/><circle class="pw" cx="638.6" cy="598" r="3.05"/><circle class="pw" cx="677.3" cy="604.98" r="3.05"/><circle class="pw" cx="551.9" cy="611.96" r="3.05"/><circle class="pw" cx="677.3" cy="618.94" r="3.05"/><circle class="pw" cx="677.3" cy="625.92" r="3.05"/><circle class="pw" cx="551.9" cy="632.9" r="3.05"/><circle class="pw" cx="620.6" cy="639.88" r="3.05"/><circle class="pw" cx="616.8" cy="646.86" r="3.05"/></g></g>
</svg></body></html>
